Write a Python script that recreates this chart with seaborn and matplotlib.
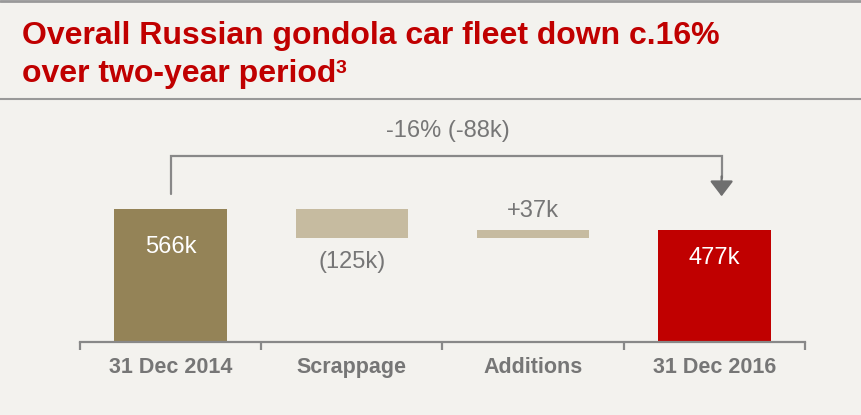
import matplotlib
matplotlib.use("Agg")
import matplotlib.pyplot as plt
import seaborn as sns
import numpy as np

# data (thousand cars)
categories = ["31 Dec 2014", "Scrappage", "Additions", "31 Dec 2016"]
start_fleet = 566
scrappage = -125
additions = 37
end_fleet = 477
bar_labels = ["566k", "(125k)", "+37k", "477k"]
change_label = "-16% (-88k)"

# waterfall geometry
after_scrap = start_fleet + scrappage
heights = [start_fleet, -scrappage, additions, end_fleet]
bottoms = [0, after_scrap, after_scrap, 0]

bg = "#f3f2ee"
grey = "#767676"
line_grey = "#888888"
red = "#c00000"
colors = ["#948357", "#c6bba0", "#c6bba0", red]

sns.set_theme(style="white")
plt.rcParams["font.family"] = ["Liberation Sans", "DejaVu Sans"]

fig = plt.figure(figsize=(8.62, 4.15), dpi=100, facecolor=bg)
ax = fig.add_axes([80 / 862, 73 / 415, 725 / 862, 199.75 / 415])
ax.set_facecolor(bg)

sns.barplot(x=categories, y=heights, bottom=bottoms, color=colors[0],
            width=0.62, errorbar=None, ax=ax, saturation=1)
for patch, c in zip(ax.patches, colors):
    patch.set_facecolor(c)
    patch.set_edgecolor("none")

ax.set_xlim(-0.5, 3.5)
ax.set_ylim(0, 850)
ax.set_yticks([])
for s in ["top", "left", "right"]:
    ax.spines[s].set_visible(False)
ax.spines["bottom"].set_color(line_grey)
ax.spines["bottom"].set_linewidth(1.6)

ax.set_xticks(np.arange(-0.5, 4, 1), minor=True)
ax.tick_params(axis="x", which="minor", bottom=True, length=6, width=1.6,
               color=line_grey, direction="out")
ax.tick_params(axis="x", which="major", length=0, pad=11, labelsize=15.5,
               labelcolor=grey)
for t in ax.get_xticklabels():
    t.set_fontweight("bold")

# bar labels
tops = [b + h for b, h in zip(bottoms, heights)]
ax.annotate(bar_labels[0], (0, tops[0]), xytext=(0, -38), textcoords="offset pixels",
            ha="center", va="center", color="white", fontsize=17)
ax.annotate(bar_labels[1], (1, bottoms[1]), xytext=(0, -24), textcoords="offset pixels",
            ha="center", va="center", color=grey, fontsize=17)
ax.annotate(bar_labels[2], (2, tops[2]), xytext=(0, 19), textcoords="offset pixels",
            ha="center", va="center", color=grey, fontsize=17)
ax.annotate(bar_labels[3], (3, tops[3]), xytext=(0, -28), textcoords="offset pixels",
            ha="center", va="center", color="white", fontsize=17)

# bracket with arrow
bx = 3.04
ax.plot([0, 0, bx, bx], [630, 793, 793, 700], color=line_grey, lw=1.6,
        clip_on=False, solid_joinstyle="miter")
ax.annotate("", xy=(bx, 620), xytext=(bx, 705),
            arrowprops=dict(arrowstyle="-|>,head_length=0.55,head_width=0.42",
                            mutation_scale=17, color="#6f6f6f", lw=1.6,
                            shrinkA=0, shrinkB=0), annotation_clip=False)
ax.text(1.53, 898, change_label, ha="center", va="center", color=grey,
        fontsize=17)

# title
fig.text(22 / 862, 1 - 44 / 415, "Overall Russian gondola car fleet down c.16%",
         color=red, fontsize=23, fontweight="bold", va="baseline")
t2 = fig.text(22 / 862, 1 - 82 / 415, "over two-year period",
              color=red, fontsize=23, fontweight="bold", va="baseline")
bb = t2.get_window_extent(renderer=fig.canvas.get_renderer())
fig.text((bb.x1 - 1) / 862, 1 - 73 / 415, "3", color=red, fontsize=14,
         fontweight="bold", va="baseline")

# header rules
fig.add_artist(plt.Line2D([0, 1], [1 - 1.5 / 415] * 2, color="#999999", lw=2))
fig.add_artist(plt.Line2D([0, 1], [1 - 99 / 415] * 2, color="#999999", lw=1.5))

fig.savefig("out.png", dpi=100, facecolor=bg)
